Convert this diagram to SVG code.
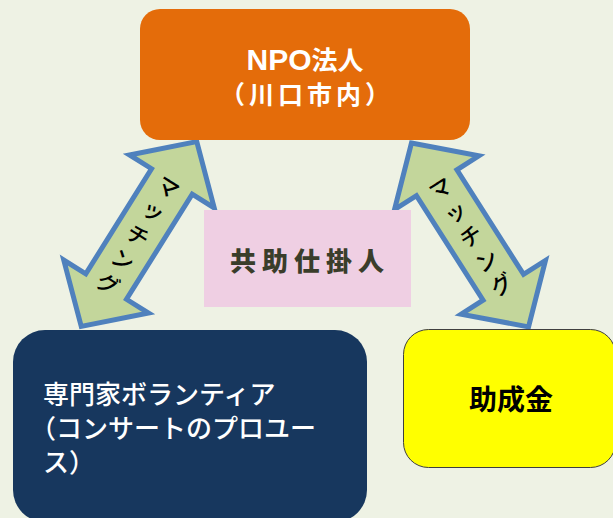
<svg xmlns="http://www.w3.org/2000/svg" width="613" height="518" viewBox="0 0 613 518">
  <defs>
    <style>
      .jp { font-family: "Noto Sans CJK JP", "Noto Sans", sans-serif; }
      .arrow { fill: #C3D69B; stroke: #4F81BD; stroke-width: 5; stroke-linejoin: miter; }
      .atext { font-family: "Noto Sans CJK JP", sans-serif; font-size: 22px; font-weight: 500; fill: #000; text-anchor: middle; dominant-baseline: central; }
      .white { fill: #FFFFFF; }
    </style>
    <polygon id="dblArrow" points="0,-109 50,-62 24,-62 24,62 50,62 0,109 -50,62 -24,62 -24,-62 -50,-62"/>
  </defs>
  <rect x="0" y="0" width="613" height="518" fill="#EEF2E4"/>

  <g id="connectors">
    <g id="arrow-left" transform="translate(139,234) rotate(32)">
      <use href="#dblArrow" class="arrow"/>
      <text class="atext" x="0" y="-57">マ</text>
      <text class="atext" x="0" y="-29">ッ</text>
      <text class="atext" x="0" y="0">チ</text>
      <text class="atext" x="0" y="29">ン</text>
      <text class="atext" x="0" y="57">グ</text>
    </g>
    <g id="arrow-right" transform="translate(470,235) rotate(-32.5)">
      <use href="#dblArrow" class="arrow"/>
      <text class="atext" x="0" y="-57">マ</text>
      <text class="atext" x="0" y="-29">ッ</text>
      <text class="atext" x="0" y="0">チ</text>
      <text class="atext" x="0" y="29">ン</text>
      <text class="atext" x="0" y="57">グ</text>
    </g>
  </g>

  <g id="node-npo">
    <rect x="140" y="9" width="330" height="131" rx="20" fill="#E46C0A"/>
    <text class="jp white" x="305" y="70" text-anchor="middle" font-weight="bold"><tspan font-family="Liberation Sans, sans-serif" font-size="30">NPO</tspan><tspan font-size="26">法人</tspan></text>
    <text class="jp white" x="307" y="104" text-anchor="middle" font-size="25" font-weight="bold" letter-spacing="4">（川口市内）</text>
  </g>

  <g id="node-kyojo">
    <rect x="204" y="210" width="207" height="97" fill="#EFCFE3"/>
    <text class="jp" x="230" y="271" font-size="26" font-weight="900" letter-spacing="6" fill="#3A3D2A">共助仕掛人</text>
  </g>

  <g id="node-volunteer">
    <rect x="13" y="330" width="354" height="192" rx="32" fill="#17375E"/>
    <text class="jp white" font-size="26" font-weight="500" x="43" y="404">専門家ボランティア</text>
    <text class="jp white" font-size="26" font-weight="500" x="30" y="438">（コンサートのプロユー</text>
    <text class="jp white" font-size="26" font-weight="500" x="43" y="472">ス）</text>
  </g>

  <g id="node-grant">
    <rect x="403.5" y="329.5" width="212" height="138" rx="25" fill="#FFFF00" stroke="#3F3F3F" stroke-width="1"/>
    <text class="jp" x="511" y="410" font-size="28" font-weight="bold" text-anchor="middle" fill="#000">助成金</text>
  </g>
</svg>
